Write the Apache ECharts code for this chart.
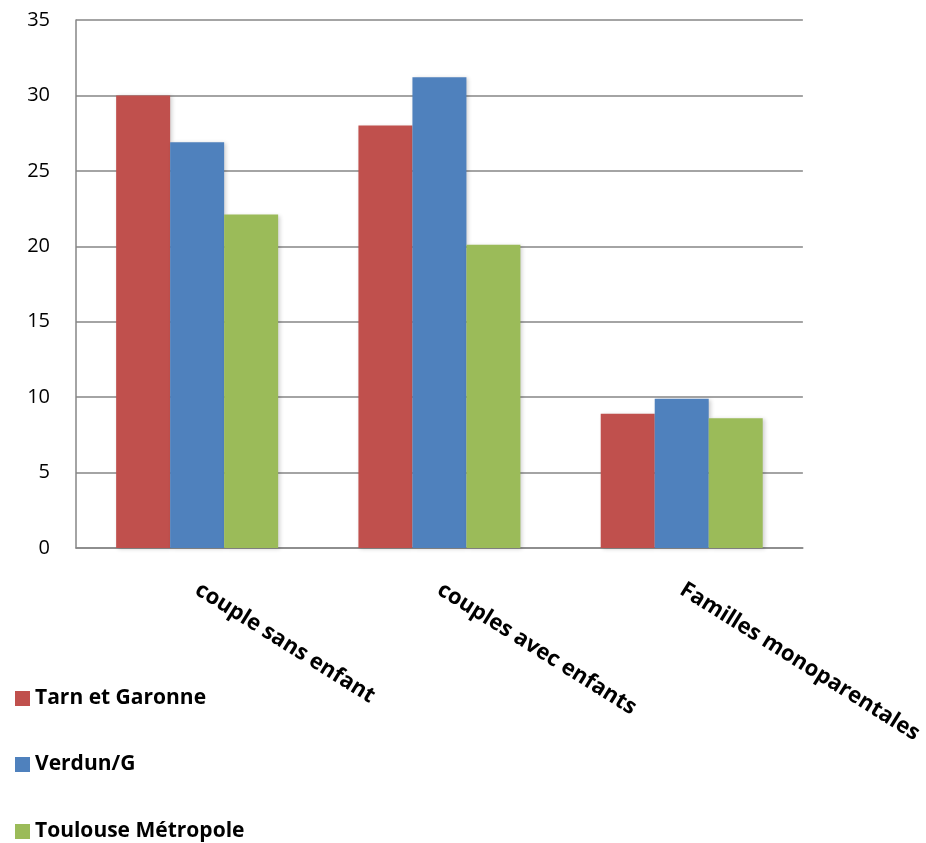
<!DOCTYPE html>
<html>
<head>
<meta charset="utf-8">
<script src="https://cdn.jsdelivr.net/npm/echarts@6/dist/echarts.min.js"></script>
<style>
  html, body { margin: 0; padding: 0; background: #fff; }
  #chart { width: 926px; height: 843px; }
</style>
</head>
<body>
<div id="chart"></div>
<script>
// categories and series
const categories = ['couple sans enfant', 'couples avec enfants', 'Familles monoparentales']
const tarnGaronne = [30, 28, 8.9]
const verdun = [26.9, 31.2, 9.9]
const toulouse = [22.1, 20.1, 8.6]
const seriesNames = ['Tarn et Garonne', 'Verdun/G', 'Toulouse Métropole']
const colors = ['#c0504d', '#4f81bd', '#9bbb59']

const chart = echarts.init(document.getElementById('chart'))

const barStyle = (color) => ({
  color: color,
  shadowBlur: 4,
  shadowOffsetX: 2,
  shadowOffsetY: 1,
  shadowColor: 'rgba(0, 0, 0, 0.18)'
})

// one legend per series so they stack like the original
const legendTops = [688, 754, 821]
const legends = seriesNames.map((name, i) => ({
  orient: 'vertical',
  left: 15,
  top: legendTops[i],
  padding: 0,
  itemWidth: 15,
  itemHeight: 15,
  itemGap: 7,
  icon: 'rect',
  data: [name],
  textStyle: {
    color: '#000',
    fontWeight: 'bold',
    fontSize: 21,
    fontFamily: 'Open Sans, sans-serif'
  }
}))

const option = {
  animation: false,
  textStyle: { fontFamily: 'Open Sans, Liberation Sans, sans-serif' },
  grid: { left: 76, right: 123, top: 20, bottom: 295 },
  legend: legends,
  xAxis: {
    type: 'category',
    data: categories,
    axisTick: { show: false },
    axisLine: { lineStyle: { color: '#868686', width: 1.5 } },
    axisLabel: {
      rotate: -32,
      margin: 40,
      color: '#000',
      fontWeight: 'bold',
      fontSize: 22,
      fontFamily: 'Open Sans, sans-serif'
    }
  },
  yAxis: {
    type: 'value',
    min: 0,
    max: 35,
    interval: 5,
    axisLine: { show: true, lineStyle: { color: '#868686', width: 1.5 } },
    axisTick: { show: false },
    axisLabel: { color: '#000', fontSize: 20, margin: 26 },
    splitLine: { lineStyle: { color: '#868686', width: 1.5 } }
  },
  series: [
    {
      name: seriesNames[0], type: 'bar', data: tarnGaronne,
      barWidth: 54, barGap: '0%', itemStyle: barStyle(colors[0])
    },
    {
      name: seriesNames[1], type: 'bar', data: verdun,
      barWidth: 54, barGap: '0%', itemStyle: barStyle(colors[1])
    },
    {
      name: seriesNames[2], type: 'bar', data: toulouse,
      barWidth: 54, barGap: '0%', itemStyle: barStyle(colors[2])
    }
  ]
}
chart.setOption(option)
</script>
</body>
</html>
